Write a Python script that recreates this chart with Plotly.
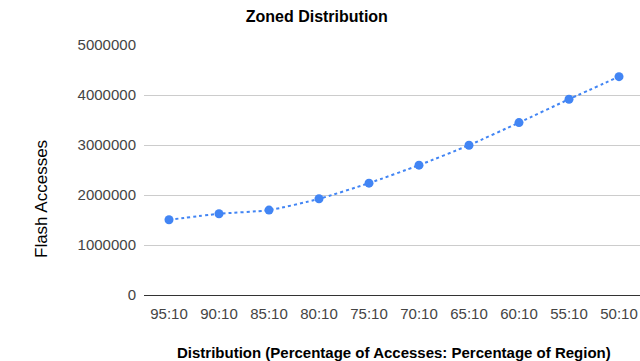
import plotly.graph_objects as go

# Zone split (percentage of accesses : percentage of region)
categories = ["95:10", "90:10", "85:10", "80:10", "75:10",
              "70:10", "65:10", "60:10", "55:10", "50:10"]
flash_accesses = [1504000, 1624000, 1698000, 1924000, 2237000,
                  2597000, 2996000, 3448000, 3915000, 4367000]
y_ticks = [0, 1000000, 2000000, 3000000, 4000000, 5000000]

W, H = 640, 361
L, R, T, B = 144, 0, 45, 66
FONT = "Liberation Sans, Arial, sans-serif"

fig = go.Figure()
fig.add_trace(go.Scatter(
    x=categories, y=flash_accesses,
    mode="lines+markers",
    line=dict(color="#4285F4", width=2, dash="dot", shape="spline", smoothing=0.6),
    marker=dict(color="#4285F4", size=9),
    showlegend=False,
))

plot_w = W - L - R
fig.update_layout(
    width=W, height=H,
    margin=dict(l=L, r=R, t=T, b=B),
    paper_bgcolor="white", plot_bgcolor="white",
    font=dict(family=FONT, color="#444444", size=15),
    title=dict(text="<b>Zoned Distribution</b>", x=0.495, xanchor="center",
               y=1 - 16 / H, yanchor="middle",
               font=dict(size=16, color="#000000", family=FONT)),
    xaxis=dict(type="category", range=[-0.5, 9.42], showgrid=False,
               showline=False, zeroline=False, ticks="", ticklabelstandoff=8,
               tickfont=dict(size=15, color="#444444")),
    yaxis=dict(range=[0, 5000000], tickvals=y_ticks,
               ticktext=[str(v) for v in y_ticks],
               showgrid=True, gridcolor="#cccccc", gridwidth=1,
               zeroline=True, zerolinecolor="#333333", zerolinewidth=1,
               showline=False, ticks="", ticklabelstandoff=7,
               tickfont=dict(size=15, color="#444444")),
    annotations=[
        dict(text="<b>Distribution (Percentage of Accesses: Percentage of Region)</b>",
             xref="paper", yref="paper",
             x=(394 - L) / plot_w, y=-(352 - (H - B)) / (H - T - B),
             xanchor="center", yanchor="middle", showarrow=False,
             font=dict(size=15, color="#000000", family=FONT)),
        dict(text="Flash Accesses", textangle=-90,
             xref="paper", yref="paper",
             x=-(L - 41) / plot_w, y=(H - B - 199) / (H - T - B),
             xanchor="center", yanchor="middle", showarrow=False,
             font=dict(size=17, color="#000000", family=FONT)),
    ],
)

fig.write_html("out.html")
